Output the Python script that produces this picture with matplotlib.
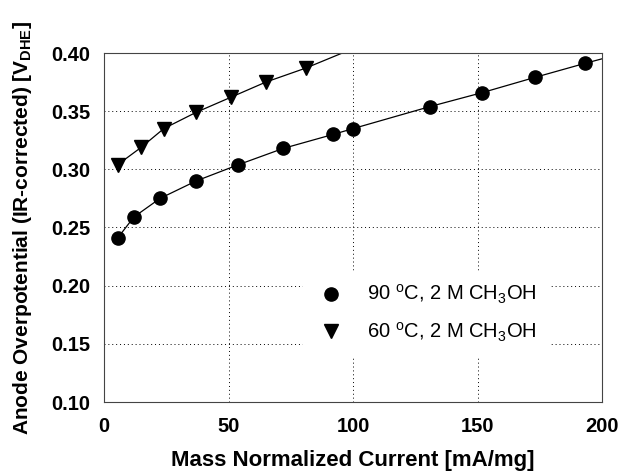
import matplotlib.pyplot as plt

# 90 C, 2 M CH3OH
x90 = [5.5, 12, 22.5, 37, 54, 72, 92, 100, 131, 152, 173, 193]
y90 = [0.241, 0.259, 0.275, 0.290, 0.304, 0.318, 0.330, 0.335, 0.354, 0.366, 0.379, 0.391]
# 60 C, 2 M CH3OH
x60 = [5.5, 15, 24, 37, 51, 65, 81]
y60 = [0.304, 0.319, 0.335, 0.349, 0.362, 0.375, 0.387]
# fitted curves run on past the last point
fit90_x = x90 + [200]
fit90_y = y90 + [0.395]
fit60_x = x60 + [98]
fit60_y = y60 + [0.402]

xticks = [0, 50, 100, 150, 200]
yticks = [0.10, 0.15, 0.20, 0.25, 0.30, 0.35, 0.40]

plt.rcParams['font.family'] = ['Liberation Sans', 'DejaVu Sans']
plt.rcParams['mathtext.fontset'] = 'custom'
plt.rcParams['mathtext.rm'] = 'Liberation Sans'
plt.rcParams['mathtext.it'] = 'Liberation Sans'
plt.rcParams['mathtext.bf'] = 'Liberation Sans:bold'

fig = plt.figure(figsize=(6.21, 4.73), dpi=100)
ax = fig.add_axes([104 / 621, 1 - 402 / 473, 498 / 621, 349 / 473])

ax.plot(fit90_x, fit90_y, color='black', lw=0.9)
ax.plot(fit60_x, fit60_y, color='black', lw=0.9)
ax.plot(x90, y90, 'o', color='black', ms=9.5, label='90 $\\mathregular{^{o}}$C, 2 M CH$\\mathregular{_3}$OH')
ax.plot(x60, y60, 'v', color='black', ms=9.5, label='60 $\\mathregular{^{o}}$C, 2 M CH$\\mathregular{_3}$OH')

ax.set_xlim(0, 200)
ax.set_ylim(0.10, 0.40)
ax.set_xticks(xticks)
ax.set_yticks(yticks)
ax.set_xticklabels([str(t) for t in xticks], fontsize=14.5, fontweight='bold')
ax.set_yticklabels(['%.2f' % t for t in yticks], fontsize=14.5, fontweight='bold')
ax.tick_params(axis='x', length=0, pad=11)
ax.tick_params(axis='y', length=0, pad=10)
ax.grid(True, color='black', linestyle=(0, (1, 3)), lw=0.7)
for s in ax.spines.values():
    s.set_linewidth(0.8)
    s.set_color('#444444')

ax.set_xlabel('Mass Normalized Current [mA/mg]', fontsize=16, fontweight='bold', labelpad=10)
ax.set_ylabel('Anode Overpotential (IR-corrected) [V$\\mathregular{_{DHE}}$]', fontsize=15,
              fontweight='bold', labelpad=12)

leg = ax.legend(loc='upper left', bbox_to_anchor=(0.40, 0.376), borderaxespad=0, frameon=True,
                fontsize=14.5, handlelength=1.6, handletextpad=0.95, labelspacing=0.7, borderpad=0.6)
leg.get_frame().set_edgecolor('white')
leg.get_frame().set_facecolor('white')
leg.get_frame().set_alpha(1)

fig.savefig('out.png', dpi=100)
